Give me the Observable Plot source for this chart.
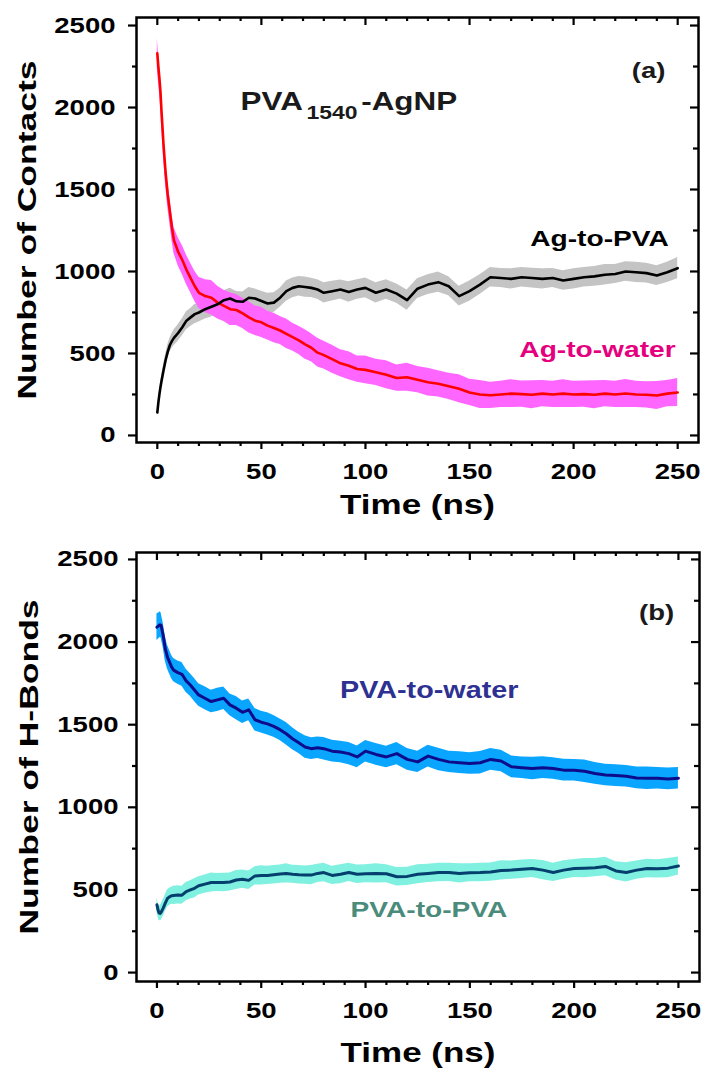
<!DOCTYPE html>
<html><head><meta charset="utf-8">
<script src="https://cdn.jsdelivr.net/npm/d3@7"></script>
<script src="https://cdn.jsdelivr.net/npm/@observablehq/plot@0.6"></script>
<style>
html,body{margin:0;padding:0;background:#fff;}
#chart svg{display:block;}
</style></head><body><div id="chart"></div>
<script>
// ---- data ----
const time = [0,0.5,1,1.5,2,3,4,5,6,7,8,10,12,14,16,18,20,23,26,29,32,35,38,41,44,47,50,53,56,59,62,65,68,71,74,77,80,84,88,92,96,100,105,110,115,120,125,130,135,140,145,150,155,160,165,170,175,180,185,190,195,200,205,210,215,220,225,230,235,240,245,250];

const agWaterMean = [2330,2250,2180,2100,1980,1770,1600,1470,1370,1270,1190,
 1120,1070,1010,960,910,870,
 850,840,810,790,770,765,745,720,700,690,670,655,640,620,600,580,555,535,505,490,
 465,440,425,405,400,
 385,370,350,355,340,325,315,300,285,262,250,245,250,255,252,248,255,250,255,250,252,248,255,250,256,250,248,244,255,262];
const agWaterSpread = [90,88,85,82,80,80,78,78,78,80,80,
 85,88,90,90,92,95,
 100,105,100,95,100,95,92,95,90,92,88,90,86,90,85,86,90,85,88,85,
 85,82,85,80,85,
 80,85,80,85,80,85,80,80,85,80,85,80,80,85,80,85,80,80,85,80,80,85,80,80,85,80,80,85,80,85];

const agPvaMean = [140,200,250,293,330,397,460,510,550,575,595,
 625,660,700,720,740,750,
 770,785,800,825,835,818,815,840,835,820,805,810,840,880,900,910,905,900,890,870,
 880,890,875,890,900,
 870,890,865,825,895,920,935,910,850,880,920,965,960,955,965,960,955,960,945,955,965,970,980,985,1000,995,990,975,995,1020];
const agPvaSpread = [10,15,20,25,28,32,36,40,42,45,48,
 50,52,55,55,58,58,
 60,62,60,58,62,60,60,62,58,60,62,60,58,62,60,60,62,58,60,62,
 60,58,62,60,60,
 62,60,58,62,60,60,62,58,60,62,60,60,58,62,60,60,62,58,60,62,60,60,62,58,60,62,60,60,62,65];

const pvaWaterMean = [2090,2095,2100,2105,2100,2040,1960,1910,1880,1850,1830,
 1815,1805,1765,1740,1710,1680,
 1660,1640,1650,1660,1620,1600,1575,1590,1530,1515,1505,1490,1470,1445,1415,1390,1365,1355,1360,1355,
 1340,1335,1325,1305,1340,
 1320,1305,1325,1290,1275,1310,1290,1275,1270,1265,1270,1290,1280,1245,1240,1235,1240,1235,1225,1225,1218,1205,1195,1192,1188,1178,1176,1176,1172,1176];
const pvaWaterSpread = [80,80,78,78,76,75,75,72,72,70,70,
 70,72,70,68,70,68,
 70,68,70,68,66,70,68,66,68,66,68,66,65,68,66,65,68,66,65,68,
 66,65,68,66,65,
 66,65,68,66,65,66,68,65,66,65,68,66,65,66,65,68,66,65,66,65,68,66,65,66,65,66,68,65,66,65];

const pvaPvaMean = [410,380,360,358,365,390,420,448,458,465,467,
 470,468,490,500,510,525,
 535,545,545,545,548,560,565,558,585,588,588,592,596,600,595,592,590,590,600,605,
 588,595,606,595,598,
 600,598,580,582,595,600,605,606,600,604,605,608,618,620,625,630,620,606,620,630,632,635,642,615,606,620,630,628,632,645];
const pvaPvaSpread = [40,42,45,45,48,50,50,52,52,52,55,
 55,55,55,55,58,55,
 55,58,55,56,55,58,55,56,55,58,55,56,55,58,55,56,55,58,55,56,
 55,58,55,56,55,
 58,55,56,55,58,55,56,55,58,55,56,55,58,55,56,55,58,55,56,55,58,55,56,55,58,55,56,55,58,55];

const yMajor = [0,500,1000,1500,2000,2500];
const yMinor = [250,750,1250,1750,2250];
const xMajor = [0,50,100,150,200,250];
const xMinor = [10,20,30,40,60,70,80,90,110,120,130,140,160,170,180,190,210,220,230,240];

// ---- helpers ----
const FONT = "'Liberation Sans', Arial, Helvetica, sans-serif";
function rows(mean, spread) {
  return time.map((t, i) => ({t, m: mean[i], lo: mean[i] - spread[i], hi: mean[i] + spread[i]}));
}
function axes(plotW, plotH, yPad) {
  const sw = 2.2;
  return [
    Plot.axisY({anchor: "left", ticks: yMajor, tickSize: 8, tickPadding: yPad, tickFormat: d => String(d), label: null, fontSize: 22, strokeWidth: sw}),
    Plot.axisY({anchor: "left", ticks: yMinor, tickSize: 4, tickFormat: () => "", label: null, strokeWidth: sw}),
    Plot.axisX({anchor: "bottom", ticks: xMajor, tickSize: 7, tickPadding: 14, tickFormat: d => String(d), label: null, fontSize: 22, strokeWidth: sw}),
    Plot.axisX({anchor: "bottom", ticks: xMinor, tickSize: 4, tickFormat: () => "", label: null, strokeWidth: sw}),
    Plot.ruleX(xMajor, {x: d => d, insetBottom: plotH - 8, strokeWidth: sw}),
    Plot.ruleX(xMinor, {x: d => d, insetBottom: plotH - 4, strokeWidth: sw}),
    Plot.ruleY(yMajor, {y: d => d, insetLeft: plotW - 8, strokeWidth: sw}),
    Plot.ruleY(yMinor, {y: d => d, insetLeft: plotW - 5, strokeWidth: sw}),
    Plot.frame({strokeWidth: 2.5})
  ];
}
const style = {fontFamily: FONT, fontWeight: "bold", fontSize: "22px", color: "black", background: "white", overflow: "visible"};

const agWater = rows(agWaterMean, agWaterSpread);
const agPva = rows(agPvaMean, agPvaSpread);
const pvaWater = rows(pvaWaterMean, pvaWaterSpread);
const pvaPva = rows(pvaPvaMean, pvaPvaSpread);

// ---- panel (a) ----
const A = {w: 716, h: 525, mt: 17, mr: 18, mb: 83, ml: 136};
const plotA = Plot.plot({
  width: A.w, height: A.h, marginTop: A.mt, marginRight: A.mr, marginBottom: A.mb, marginLeft: A.ml,
  x: {domain: [-10, 260]}, y: {domain: [-43, 2549]},
  style,
  marks: [
    Plot.areaY(agPva, {x: "t", y1: "lo", y2: "hi", fill: "#c4c4c4"}),
    Plot.areaY(agWater, {x: "t", y1: "lo", y2: "hi", fill: "#ff66ff"}),
    Plot.line(agWater, {x: "t", y: "m", stroke: "#ff0000", strokeWidth: 2.6}),
    Plot.line(agPva, {x: "t", y: "m", stroke: "#000000", strokeWidth: 2.6}),
    ...axes(A.w - A.ml - A.mr, A.h - A.mt - A.mb, 13),
    Plot.text(["PVA1540-AgNP"], {x: 40, y: 2037, textAnchor: "start", fontSize: 26, fill: "#1a1a1a"}),
    Plot.text(["(a)"], {x: 236, y: 2220, fontSize: 22, fill: "#1a1a1a"}),
    Plot.text(["Ag-to-PVA"], {x: 245.7, y: 1202, textAnchor: "end", fontSize: 22.5, fill: "#000"}),
    Plot.text(["Ag-to-water"], {x: 249, y: 525, textAnchor: "end", fontSize: 22.5, fill: "#e5007d"}),
    Plot.text(["Time (ns)"], {frameAnchor: "bottom", dy: 63, lineAnchor: "middle", fontSize: 28, fill: "#000"}),
    Plot.text(["Number of Contacts"], {frameAnchor: "left", dx: -109, rotate: -90, textAnchor: "middle", lineAnchor: "middle", fontSize: 25, fill: "#000"})
  ]
});

// ---- panel (b) ----
const B = {w: 716, h: 550, mt: 27, mr: 17, mb: 94, ml: 136};
const plotB = Plot.plot({
  width: B.w, height: B.h, marginTop: B.mt, marginRight: B.mr, marginBottom: B.mb, marginLeft: B.ml,
  x: {domain: [-9.8, 260.1]}, y: {domain: [-54, 2542]},
  style,
  marks: [
    Plot.areaY(pvaWater, {x: "t", y1: "lo", y2: "hi", fill: "#0aa5ff"}),
    Plot.line(pvaWater, {x: "t", y: "m", stroke: "#0d0d8c", strokeWidth: 3}),
    Plot.areaY(pvaPva, {x: "t", y1: "lo", y2: "hi", fill: "#80f0e0"}),
    Plot.line(pvaPva, {x: "t", y: "m", stroke: "#053f6e", strokeWidth: 3}),
    ...axes(B.w - B.ml - B.mr, B.h - B.mt - B.mb, 10),
    Plot.text(["(b)"], {x: 239.5, y: 2179, fontSize: 22, fill: "#1a1a1a"}),
    Plot.text(["PVA-to-water"], {x: 173.3, y: 1707, textAnchor: "end", fontSize: 23, fill: "#2e3192"}),
    Plot.text(["PVA-to-PVA"], {x: 168, y: 381, textAnchor: "end", fontSize: 22.5, fill: "#4a8b7b"}),
    Plot.text(["Time (ns)"], {frameAnchor: "bottom", dy: 72, lineAnchor: "middle", fontSize: 28, fill: "#000"}),
    Plot.text(["Number of H-Bonds"], {frameAnchor: "left", dx: -107, rotate: -90, textAnchor: "middle", lineAnchor: "middle", fontSize: 25, fill: "#000"})
  ]
});

const root = document.getElementById("chart");
root.appendChild(plotA);
root.appendChild(plotB);

// subscript in the panel title
root.querySelectorAll("text").forEach(t => {
  if (t.textContent === "PVA1540-AgNP") {
    while (t.firstChild) t.removeChild(t.firstChild);
    const NS = "http://www.w3.org/2000/svg";
    const a = document.createElementNS(NS, "tspan"); a.textContent = "PVA";
    const b = document.createElementNS(NS, "tspan"); b.textContent = "1540";
    b.setAttribute("font-size", "19"); b.setAttribute("dy", "9"); b.setAttribute("dx", "3");
    const c = document.createElementNS(NS, "tspan"); c.textContent = "-AgNP";
    c.setAttribute("dy", "-9"); c.setAttribute("dx", "3");
    t.appendChild(a); t.appendChild(b); t.appendChild(c);
  }
});

// widen glyphs to match the reference's broad lettering
root.querySelectorAll("text").forEach(t => {
  const tr = t.getAttribute("transform") || "";
  if (tr.includes("rotate")) {
    // rotated axis titles: scale along the text direction about the centred anchor
    t.setAttribute("transform", tr + " scale(1.42,1)");
    return;
  }
  const L = t.getComputedTextLength();
  if (!L) return;
  t.setAttribute("textLength", (L * 1.25).toFixed(1));
  t.setAttribute("lengthAdjust", "spacingAndGlyphs");
});
</script>
</body></html>
